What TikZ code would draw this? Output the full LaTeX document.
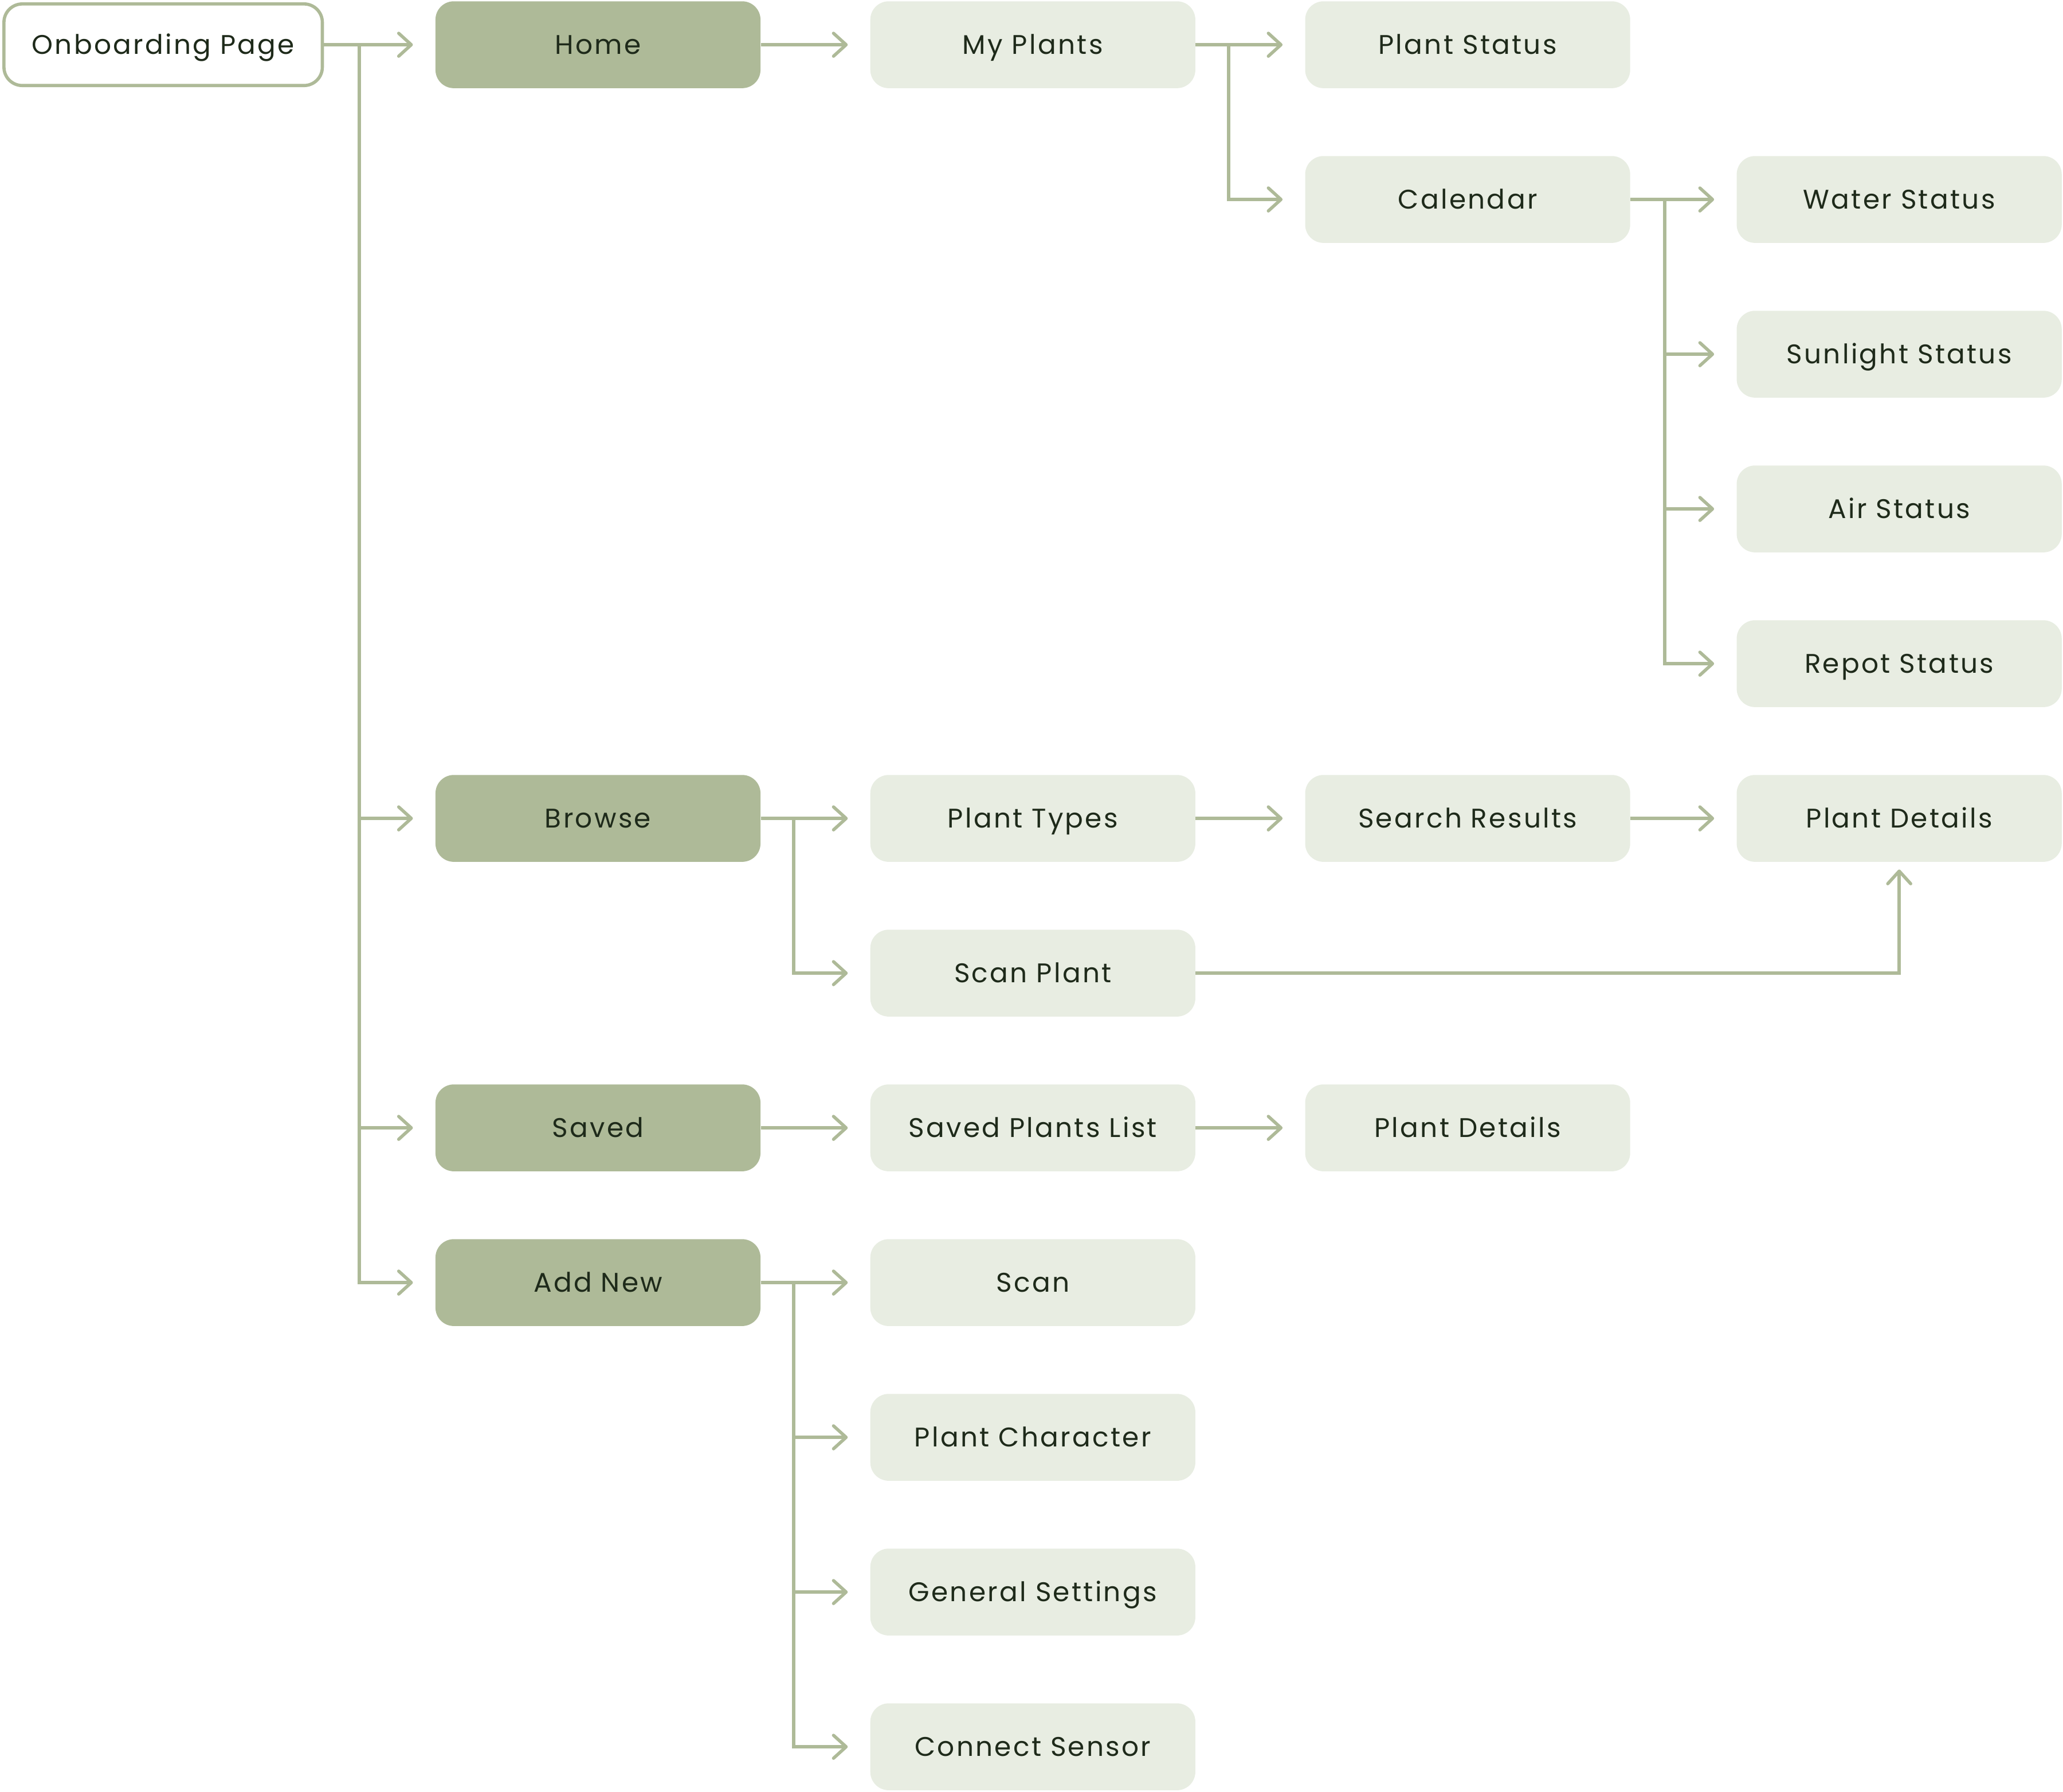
\documentclass[tikz,border=0pt]{standalone}
\usepackage{fontspec}
\setmainfont{Poppins}[LetterSpace=7]
\usetikzlibrary{arrows.meta}
\definecolor{lineg}{HTML}{AEBA98}
\definecolor{darkbox}{HTML}{AEBA98}
\definecolor{lightbox}{HTML}{E8EDE2}
\definecolor{txt}{HTML}{1E2A1A}
\begin{document}
\begin{tikzpicture}[x=1.148pt,y=-1.148pt,
  box/.style={rounded corners=16pt, minimum width=283.6pt, minimum height=75.8pt, inner sep=0pt, text=txt, font=\fontsize{23.5}{27}\selectfont, text height=16.4pt, text depth=0pt},
  mainbox/.style={box, fill=darkbox},
  subbox/.style={box, fill=lightbox},
  startbox/.style={box, fill=white, draw=lineg, line width=2.8pt, minimum width=277.8pt, minimum height=71.2pt},
  conn/.style={draw=lineg, line width=2.8pt},
  arr/.style={conn, -{Straight Barb[length=11pt,width=20pt,line width=2.8pt,round]}, shorten >=19.5pt}
]
\useasboundingbox (0,0) rectangle (1568,1361.6);
\node[startbox] (ob) at (124,34) {Onboarding Page};
\node[mainbox] (home) at (454.5,34) {Home};
\node[subbox] (myplants) at (785,34) {My Plants};
\node[subbox] (pstatus) at (1115.5,34) {Plant Status};
\node[subbox] (calendar) at (1115.5,151.6) {Calendar};
\node[subbox] (water) at (1443.5,151.6) {Water Status};
\node[subbox] (sun) at (1443.5,269.2) {Sunlight Status};
\node[subbox] (air) at (1443.5,386.8) {Air Status};
\node[subbox] (repot) at (1443.5,504.4) {Repot Status};
\node[mainbox] (browse) at (454.5,622) {Browse};
\node[subbox] (ptypes) at (785,622) {Plant Types};
\node[subbox] (search) at (1115.5,622) {Search Results};
\node[subbox] (pdet1) at (1443.5,622) {Plant Details};
\node[subbox] (scanplant) at (785,739.6) {Scan Plant};
\node[mainbox] (saved) at (454.5,857.2) {Saved};
\node[subbox] (savedlist) at (785,857.2) {Saved Plants List};
\node[subbox] (pdet2) at (1115.5,857.2) {Plant Details};
\node[mainbox] (addnew) at (454.5,974.8) {Add New};
\node[subbox] (scan) at (785,974.8) {Scan};
\node[subbox] (pchar) at (785,1092.4) {Plant Character};
\node[subbox] (settings) at (785,1210) {General Settings};
\node[subbox] (sensor) at (785,1327.6) {Connect Sensor};
% onboarding branches
\draw[arr] (ob.east) -- (home.west);
\draw[arr] (ob.east) -- ++(27,0) |- (browse.west);
\draw[arr] (ob.east) -- ++(27,0) |- (saved.west);
\draw[arr] (ob.east) -- ++(27,0) |- (addnew.west);
% home
\draw[arr] (home.east) -- (myplants.west);
\draw[arr] (myplants.east) -- (pstatus.west);
\draw[arr] (myplants.east) -- ++(25,0) |- (calendar.west);
\draw[arr] (calendar.east) -- (water.west);
\draw[arr] (calendar.east) -- ++(26,0) |- (sun.west);
\draw[arr] (calendar.east) -- ++(26,0) |- (air.west);
\draw[arr] (calendar.east) -- ++(26,0) |- (repot.west);
% browse
\draw[arr] (browse.east) -- (ptypes.west);
\draw[arr] (browse.east) -- ++(25,0) |- (scanplant.west);
\draw[arr] (ptypes.east) -- (search.west);
\draw[arr] (search.east) -- (pdet1.west);
\draw[arr, shorten >=6.5pt] (scanplant.east) -| (pdet1.south);
% saved
\draw[arr] (saved.east) -- (savedlist.west);
\draw[arr] (savedlist.east) -- (pdet2.west);
% add new
\draw[arr] (addnew.east) -- (scan.west);
\draw[arr] (addnew.east) -- ++(25,0) |- (pchar.west);
\draw[arr] (addnew.east) -- ++(25,0) |- (settings.west);
\draw[arr] (addnew.east) -- ++(25,0) |- (sensor.west);
\end{tikzpicture}
\end{document}
